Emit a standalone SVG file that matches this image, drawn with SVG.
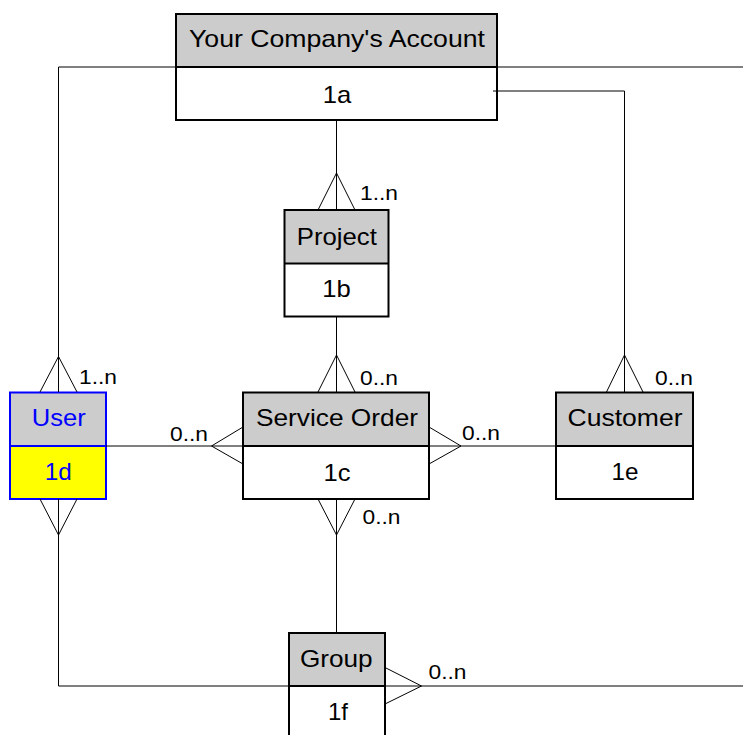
<svg xmlns="http://www.w3.org/2000/svg" width="743" height="735" viewBox="0 0 743 735">
<style>
.hd{fill:#cccccc;stroke:none}
.bd{fill:#ffffff;stroke:none}
.fr{fill:none;stroke:#000;stroke-width:2}
.frb{fill:none;stroke:#0000ff;stroke-width:2}
.t{font-family:"Liberation Sans",Arial,sans-serif;font-size:24px;fill:#000;text-anchor:middle}
.tb{fill:#0000ff}
.lb{font-family:"Liberation Sans",Arial,sans-serif;font-size:21px;fill:#000}
.c{fill:none;stroke:#000;stroke-width:1}
</style>
<rect width="743" height="735" fill="#fff"/>
<g id="account">
<rect class="hd" x="176" y="14" width="321" height="53"/>
<rect class="bd" x="176" y="67" width="321" height="53"/>
<rect class="fr" x="176" y="14" width="321" height="106"/>
<line class="fr" x1="176" y1="67" x2="497" y2="67"/>
<text class="t" x="337" y="47.3" textLength="296" lengthAdjust="spacingAndGlyphs">Your Company's Account</text>
<text class="t" x="337" y="102.7" textLength="28.5" lengthAdjust="spacingAndGlyphs">1a</text>
</g>
<g id="project">
<rect class="hd" x="284.5" y="210" width="104" height="53.5"/>
<rect class="bd" x="284.5" y="263.5" width="104" height="53"/>
<rect class="fr" x="284.5" y="210" width="104" height="106.5"/>
<line class="fr" x1="284.5" y1="263.5" x2="388.5" y2="263.5"/>
<text class="t" x="336.8" y="245" textLength="80" lengthAdjust="spacingAndGlyphs">Project</text>
<text class="t" x="336.5" y="297.3" textLength="28.5" lengthAdjust="spacingAndGlyphs">1b</text>
</g>
<g id="user">
<rect class="hd" x="10" y="392.5" width="96" height="53.5"/>
<rect x="10" y="446" width="96" height="53" fill="#ffff00"/>
<rect class="frb" x="10" y="392.5" width="96" height="106.5"/>
<line class="frb" x1="10" y1="446" x2="106" y2="446"/>
<text class="t tb" x="58.7" y="426" textLength="54" lengthAdjust="spacingAndGlyphs">User</text>
<text class="t tb" x="58.3" y="480" textLength="27" lengthAdjust="spacingAndGlyphs">1d</text>
</g>
<g id="serviceorder">
<rect class="hd" x="243" y="392.5" width="186" height="53.5"/>
<rect class="bd" x="243" y="446" width="186" height="53"/>
<rect class="fr" x="243" y="392.5" width="186" height="106.5"/>
<line class="fr" x1="243" y1="446" x2="429" y2="446"/>
<text class="t" x="337" y="426" textLength="162" lengthAdjust="spacingAndGlyphs">Service Order</text>
<text class="t" x="337" y="480.7" textLength="27" lengthAdjust="spacingAndGlyphs">1c</text>
</g>
<g id="customer">
<rect class="hd" x="556" y="392.5" width="137" height="53.5"/>
<rect class="bd" x="556" y="446" width="137" height="53"/>
<rect class="fr" x="556" y="392.5" width="137" height="106.5"/>
<line class="fr" x1="556" y1="446" x2="693" y2="446"/>
<text class="t" x="625" y="426" textLength="115" lengthAdjust="spacingAndGlyphs">Customer</text>
<text class="t" x="625" y="480" textLength="27" lengthAdjust="spacingAndGlyphs">1e</text>
</g>
<g id="group">
<rect class="hd" x="289" y="633" width="96" height="53"/>
<rect class="bd" x="289" y="686" width="96" height="54"/>
<rect class="fr" x="289" y="633" width="96" height="107"/>
<line class="fr" x1="289" y1="686" x2="385" y2="686"/>
<text class="t" x="336.3" y="666.7" textLength="72.7" lengthAdjust="spacingAndGlyphs">Group</text>
<text class="t" x="338" y="720" textLength="20" lengthAdjust="spacingAndGlyphs">1f</text>
</g>
<g id="connectors">
<polyline class="c" points="58.5,392 58.5,67 176,67"/>
<line class="c" x1="497" y1="67" x2="743" y2="67"/>
<polyline class="c" points="493,91 624.5,91 624.5,392"/>
<line class="c" x1="336.5" y1="120" x2="336.5" y2="210"/>
<polyline class="c" points="318,210 336.5,173 355,210"/>
<line class="c" x1="336.5" y1="316.5" x2="336.5" y2="392"/>
<polyline class="c" points="318,392 336.5,355 355,392"/>
<polyline class="c" points="40,392 58.5,356.5 77,392"/>
<polyline class="c" points="606.5,392 624.5,355 643,392"/>
<line class="c" x1="106" y1="446" x2="243" y2="446"/>
<polyline class="c" points="243,427 211.5,446 243,464"/>
<line class="c" x1="429" y1="446" x2="556" y2="446"/>
<polyline class="c" points="429,427 461,446 429,464"/>
<line class="c" x1="336.5" y1="499" x2="336.5" y2="633"/>
<polyline class="c" points="318,499 336.5,535 355,499"/>
<polyline class="c" points="58.5,499 58.5,686 289,686"/>
<polyline class="c" points="40,499 58.5,535 77,499"/>
<line class="c" x1="385" y1="686" x2="743" y2="686"/>
<polyline class="c" points="385,667.5 421.5,686 385,704"/>
<text class="lb" x="360" y="200" textLength="38" lengthAdjust="spacingAndGlyphs">1..n</text>
<text class="lb" x="79" y="384" textLength="38" lengthAdjust="spacingAndGlyphs">1..n</text>
<text class="lb" x="360" y="385" textLength="38" lengthAdjust="spacingAndGlyphs">0..n</text>
<text class="lb" x="655" y="385" textLength="38" lengthAdjust="spacingAndGlyphs">0..n</text>
<text class="lb" x="170" y="440.7" textLength="38" lengthAdjust="spacingAndGlyphs">0..n</text>
<text class="lb" x="462" y="440" textLength="38" lengthAdjust="spacingAndGlyphs">0..n</text>
<text class="lb" x="362.5" y="524" textLength="38" lengthAdjust="spacingAndGlyphs">0..n</text>
<text class="lb" x="428.5" y="679" textLength="38" lengthAdjust="spacingAndGlyphs">0..n</text>
</g>
</svg>
